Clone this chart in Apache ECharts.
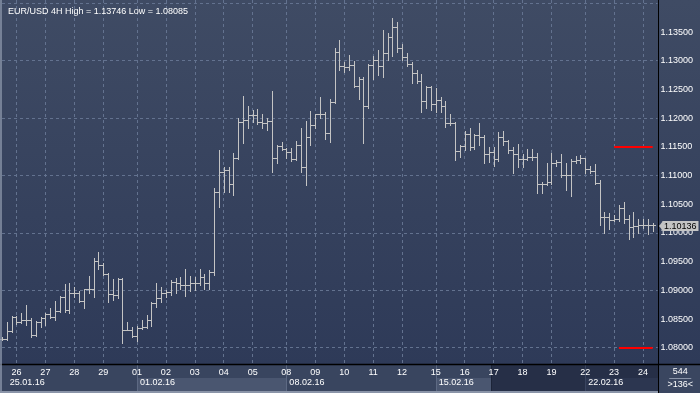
<!DOCTYPE html>
<html><head><meta charset="utf-8">
<script src="https://cdn.jsdelivr.net/npm/echarts@6/dist/echarts.min.js"></script>
<style>html,body{margin:0;padding:0;background:#3a4660;overflow:hidden}#c{width:700px;height:393px}</style>
</head><body><div id="c"></div>
<script>
// ---- data (EUR/USD 4H bars) ----
const opens = [1.0816,1.0816,1.0829,1.0853,1.0844,1.0849,1.0848,1.0822,1.0844,1.0851,1.0859,1.0853,1.0864,1.0889,1.0866,1.0895,1.0896,1.0882,1.0902,1.0903,
1.0951,1.0944,1.0928,1.0894,1.0892,1.0919,1.0831,1.0831,1.0820,1.0834,1.0836,1.0849,1.0878,1.0886,1.0895,1.0897,1.0915,1.0913,1.0909,1.0909,
1.0912,1.0913,1.0924,1.0912,1.0932,1.1071,1.1107,1.1110,1.1085,1.1131,1.1193,1.1197,1.1205,1.1205,1.1193,1.1191,1.1195,1.1130,1.1151,1.1146,
1.1141,1.1129,1.1153,1.1114,1.1167,1.1188,1.1207,1.1207,1.1174,1.1228,1.1315,1.1290,1.1289,1.1293,1.1256,1.1269,1.1221,1.1293,1.1301,1.1290,
1.1313,1.1342,1.1359,1.1323,1.1307,1.1295,1.1278,1.1265,1.1230,1.1254,1.1225,1.1232,1.1221,1.1192,1.1191,1.1143,1.1151,1.1172,1.1149,1.1171,
1.1167,1.1137,1.1141,1.1128,1.1167,1.1161,1.1144,1.1137,1.1128,1.1129,1.1133,1.1133,1.1085,1.1086,1.1089,1.1122,1.1124,1.1101,1.1101,1.1126,
1.1127,1.1130,1.1111,1.1108,1.1087,1.1027,1.1027,1.1022,1.1024,1.1043,1.1025,1.1010,1.1012,1.1014,1.1014,1.1014];
const highs = [1.0819,1.0845,1.0855,1.0855,1.0860,1.0874,1.0851,1.0847,1.0854,1.0861,1.0869,1.0881,1.0890,1.0911,1.0912,1.0906,1.0898,1.0903,1.0925,1.0956,
1.0967,1.0947,1.0930,1.0919,1.0921,1.0921,1.0845,1.0836,1.0838,1.0848,1.0857,1.0879,1.0913,1.0906,1.0901,1.0918,1.0921,1.0924,1.0938,1.0925,
1.0924,1.0937,1.0928,1.0935,1.1078,1.1144,1.1115,1.1114,1.1139,1.1200,1.1238,1.1221,1.1214,1.1216,1.1207,1.1201,1.1247,1.1153,1.1159,1.1148,
1.1148,1.1160,1.1182,1.1195,1.1212,1.1208,1.1237,1.1211,1.1234,1.1323,1.1336,1.1297,1.1310,1.1300,1.1272,1.1272,1.1294,1.1309,1.1319,1.1353,
1.1348,1.13746,1.1367,1.1330,1.1313,1.1297,1.1284,1.1277,1.1256,1.1256,1.1252,1.1236,1.1229,1.1207,1.1194,1.1153,1.1178,1.1182,1.1172,1.1192,
1.1171,1.1149,1.1149,1.1176,1.1178,1.1162,1.1149,1.1155,1.1137,1.1146,1.1146,1.1139,1.1089,1.1122,1.1139,1.1127,1.1137,1.1121,1.1128,1.1134,
1.1136,1.1131,1.1117,1.1120,1.1092,1.1037,1.1035,1.1031,1.1049,1.1053,1.1031,1.1037,1.1025,1.1024,1.1025,1.1018];
const lows = [1.0813,1.0813,1.0828,1.0841,1.0843,1.0840,1.0818,1.0820,1.0836,1.0840,1.0851,1.0849,1.0863,1.0863,1.0860,1.0889,1.0880,1.0869,1.0895,1.0889,
1.0938,1.0927,1.0880,1.0884,1.0886,1.08085,1.0830,1.0819,1.0812,1.0832,1.0834,1.0838,1.0871,1.0880,1.0889,1.0892,1.0895,1.0902,1.0890,1.0898,
1.0901,1.0909,1.0902,1.0902,1.0927,1.1046,1.1072,1.1072,1.1066,1.1129,1.1156,1.1182,1.1194,1.1189,1.1182,1.1179,1.1107,1.1121,1.1144,1.1131,
1.1126,1.1127,1.1107,1.1083,1.1153,1.1182,1.1200,1.1164,1.1159,1.1226,1.1284,1.1281,1.1284,1.1255,1.1234,1.1157,1.1217,1.1269,1.1276,1.1272,
1.1301,1.1309,1.1315,1.1302,1.1291,1.1262,1.1261,1.1211,1.1217,1.1215,1.1211,1.1211,1.1185,1.1188,1.1127,1.1133,1.1144,1.1144,1.1147,1.1153,
1.1121,1.1124,1.1117,1.1126,1.1153,1.1140,1.1104,1.1115,1.1115,1.1127,1.1127,1.1069,1.1069,1.1083,1.1086,1.1117,1.1098,1.1075,1.1064,1.1122,
1.1121,1.1104,1.1104,1.1086,1.1014,1.1000,1.1006,1.1020,1.1021,1.1018,1.0989,1.0993,1.1000,1.1008,1.0998,1.1004];
const closes = [1.0816,1.0829,1.0853,1.0844,1.0849,1.0848,1.0822,1.0844,1.0851,1.0859,1.0853,1.0864,1.0889,1.0866,1.0895,1.0896,1.0882,1.0902,1.0903,1.0951,
1.0944,1.0928,1.0894,1.0892,1.0919,1.0831,1.0831,1.0820,1.0834,1.0836,1.0849,1.0878,1.0886,1.0895,1.0897,1.0915,1.0913,1.0909,1.0909,1.0912,
1.0913,1.0924,1.0912,1.0932,1.1071,1.1107,1.1110,1.1085,1.1131,1.1193,1.1197,1.1205,1.1205,1.1193,1.1191,1.1195,1.1130,1.1151,1.1146,1.1141,
1.1129,1.1153,1.1114,1.1167,1.1188,1.1207,1.1207,1.1174,1.1228,1.1315,1.1290,1.1289,1.1293,1.1256,1.1269,1.1221,1.1293,1.1301,1.1290,1.1313,
1.1342,1.1359,1.1323,1.1307,1.1295,1.1278,1.1265,1.1230,1.1254,1.1225,1.1232,1.1221,1.1192,1.1191,1.1143,1.1151,1.1172,1.1149,1.1171,1.1167,
1.1137,1.1141,1.1128,1.1167,1.1161,1.1144,1.1137,1.1128,1.1129,1.1133,1.1133,1.1085,1.1086,1.1089,1.1122,1.1124,1.1101,1.1101,1.1126,1.1127,
1.1130,1.1111,1.1108,1.1087,1.1027,1.1027,1.1022,1.1024,1.1043,1.1025,1.1010,1.1012,1.1014,1.1014,1.1014,1.10136];

const dayStartIndex = [3,9,15,21,28,34,40,46,52,59,65,71,77,83,90,96,102,108,114,121,127,133];
const dayLabels = ['26','27','28','29','01','02','03','04','05','08','09','10','11','12','15','16','17','18','19','22','23','24'];
const weekStartIndex = [1,28,59,90,121];
const weekLabels = ['25.01.16','01.02.16','08.02.16','15.02.16','22.02.16'];
const priceTicks = [1.080,1.085,1.090,1.095,1.100,1.105,1.110,1.115,1.120,1.125,1.130,1.135];
const levelValues = [1.115, 1.080];
const levelStartIndex = [127, 128];
const lastPrice = 1.10136;
const titleText = 'EUR/USD 4H High = 1.13746 Low = 1.08085';
const totalBarsText = '544';
const visibleBarsText = '>136<';

// ---- layout / style ----
const FONT = '"Liberation Sans", Arial, sans-serif';
const FS = 9;
const GRID = '#63728f';
const BAR = '#c4c4c4';
const Y_MIN = 1.07725, Y_MAX = 1.14058;
const darkFrom = 102;

const n = opens.length;
const categories = opens.map((_, i) => String(i)).concat(['']);
const daySet = new Map(dayStartIndex.map((d, k) => [d, dayLabels[k]]));
const weekSet = new Map(weekStartIndex.map((d, k) => [d, weekLabels[k]]));
const barData = opens.map((o, i) => [i, o, highs[i], lows[i], closes[i]]);

const chart = echarts.init(document.getElementById('c'), null, {renderer: 'canvas'});

function renderItem(params, api) {
  const i = api.value(0);
  const o = api.coord([i, api.value(1)]);
  const h = api.coord([i, api.value(2)]);
  const l = api.coord([i, api.value(3)]);
  const c = api.coord([i, api.value(4)]);
  const x = Math.round(o[0]) + 0.5;
  const r = v => Math.round(v) + 0.5;
  const st = {stroke: BAR, lineWidth: 1};
  return {type: 'group', children: [
    {type: 'line', shape: {x1: x, y1: r(h[1]) - 0.5, x2: x, y2: r(l[1]) + 0.5}, style: st},
    {type: 'line', shape: {x1: x - 2.5, y1: r(o[1]), x2: x, y2: r(o[1])}, style: st},
    {type: 'line', shape: {x1: x, y1: r(c[1]), x2: x + 2.5, y2: r(c[1])}, style: st}
  ]};
}

const option = {
  animation: false,
  backgroundColor: {type: 'linear', x: 0, y: 0, x2: 0, y2: 1,
    colorStops: [{offset: 0, color: '#3f4b64'}, {offset: 0.93, color: '#2e3a58'}, {offset: 1, color: '#2e3a58'}]},
  title: {text: titleText, left: 3, top: 2,
    textStyle: {color: '#ffffff', fontSize: FS, fontWeight: 'normal', fontFamily: FONT}},
  grid: {left: 2, right: 42.5, top: 0, bottom: 29.5},
  xAxis: [{
    type: 'category', data: categories, boundaryGap: false,
    axisLine: {show: false}, axisTick: {show: false},
    splitLine: {show: true, interval: (i) => daySet.has(i), lineStyle: {color: GRID, type: [3, 3], width: 1}},
    axisLabel: {interval: (i) => daySet.has(i), formatter: (v, i) => daySet.get(i) || '',
      color: (v, i) => (i > darkFrom ? '#7f889b' : '#ffffff'),
      fontSize: FS, margin: 5, fontFamily: FONT}
  }, {
    type: 'category', data: categories, boundaryGap: false, position: 'bottom', offset: 9.5,
    axisLine: {show: false}, axisTick: {show: false}, splitLine: {show: false},
    axisLabel: {interval: (i) => weekSet.has(i), formatter: (v, i) => weekSet.get(i) || '',
      color: (v, i) => (i > darkFrom ? '#7f889b' : '#ffffff'),
      align: 'left', padding: [0, 0, 0, 3], fontSize: FS, margin: 5, fontFamily: FONT}
  }],
  yAxis: {
    type: 'value', position: 'right', min: Y_MIN, max: Y_MAX, splitNumber: 12, scale: true,
    axisLine: {show: false}, axisTick: {show: false}, splitLine: {show: false},
    axisLabel: {showMinLabel: false, showMaxLabel: false, color: '#ffffff', fontSize: FS, margin: 3, fontFamily: FONT,
      formatter: v => priceTicks.some(t => Math.abs(t - v) < 1e-7) ? v.toFixed(5) : ''}
  },
  series: [{
    type: 'line', data: [], z: 1, silent: true,
    markLine: {silent: true, symbol: 'none', z: 1, label: {show: false},
      lineStyle: {color: GRID, type: [3, 3], width: 1},
      data: priceTicks.map(v => ({yAxis: v}))}
  }, {
    type: 'custom', renderItem: renderItem, data: barData, z: 3,
    encode: {x: 0, y: [1, 2, 3, 4]},
    markLine: {silent: true, symbol: 'none', z: 4,
      data: levelValues.map((v, k) => [
          {coord: [categories[levelStartIndex[k]], v], lineStyle: {color: '#ff0000', width: 2, type: 'solid'}, label: {show: false}},
          {coord: [categories[n - 1], v]}
        ])}
  }]
};
chart.setOption(option);

// ---- axis strip decorations placed via the axis scales ----
const gx = i => chart.convertToPixel({xAxisIndex: 0}, i);
const yb = Math.round(chart.convertToPixel({yAxisIndex: 0}, Y_MIN));
const xr = Math.round(gx(n)) + 0.5;
const half = (gx(1) - gx(0)) / 2;
const H = 393, W = 700;
const rowY = yb + 14;
const els = [];
els.push({type: 'rect', z: -1, shape: {x: 0, y: yb, width: W, height: H - yb}, style: {fill: '#39455f'}});
const weekEnds = weekStartIndex.slice(1).concat([n]);
weekStartIndex.forEach((s, k) => {
  if (k % 2 === 1) {
    const x0 = Math.round(gx(s));
    const x1 = Math.min(Math.round(gx(weekEnds[k])), Math.round(gx(darkFrom) - half));
    if (x1 > x0) els.push({type: 'rect', z: -1, shape: {x: x0, y: rowY, width: x1 - x0, height: H - 2 - rowY}, style: {fill: '#4a5670'}});
  }
});
const xd = Math.round(gx(darkFrom) - half);
els.push({type: 'rect', z: -1, shape: {x: xd, y: yb, width: xr - xd, height: H - 2 - yb}, style: {fill: '#262f47'}});
els.push({type: 'rect', z: -1, shape: {x: Math.round(gx(weekStartIndex[4])), y: rowY, width: xr - Math.round(gx(weekStartIndex[4])), height: H - 2 - rowY}, style: {fill: '#2c3650'}});
els.push({type: 'line', z: -1, shape: {x1: xd + 0.5, y1: yb, x2: xd + 0.5, y2: H - 2}, style: {stroke: '#1c2438', lineWidth: 1}});
weekStartIndex.slice(1).forEach(s => {
  const x = Math.round(gx(s)) + 0.5;
  els.push({type: 'line', z: -1, shape: {x1: x, y1: yb, x2: x, y2: H - 2}, style: {stroke: s > darkFrom ? '#3a4560' : '#5d6983', lineWidth: 1}});
});
els.push({type: 'rect', z: -1, shape: {x: 0, y: H - 2, width: xr, height: 2}, style: {fill: '#8a94a8'}});
els.push({type: 'rect', z: -1, shape: {x: xr, y: yb, width: W - xr, height: H - yb}, style: {fill: '#3a4660'}});
els.push({type: 'line', z: 20, shape: {x1: 0, y1: yb + 0.5, x2: W, y2: yb + 0.5}, style: {stroke: '#000000', lineWidth: 1.5}});
els.push({type: 'line', z: 20, shape: {x1: xr, y1: 0, x2: xr, y2: H}, style: {stroke: '#000000', lineWidth: 1}});
els.push({type: 'line', z: 20, shape: {x1: 1, y1: 0, x2: 1, y2: H}, style: {stroke: '#8a94a8', lineWidth: 1.5}});
// last-price tag anchored to the price scale
const yp = Math.round(chart.convertToPixel({yAxisIndex: 0}, lastPrice)) + 1;
els.push({type: 'polygon', z: 40, shape: {points: [[xr + 0.5, yp], [xr + 4.5, yp - 5], [xr + 4.5, yp + 5]]}, style: {fill: '#c4c4c4'}});
els.push({type: 'rect', z: 40, shape: {x: xr + 4, y: yp - 5, width: 36, height: 10}, style: {fill: '#c4c4c4'}});
els.push({type: 'text', z: 41, x: xr + 5.5, y: yp + 0.5, style: {text: lastPrice.toFixed(5), fill: '#000000', font: FS + 'px ' + FONT, align: 'left', verticalAlign: 'middle'}});
const cx = (xr + W) / 2 + 1;
els.push({type: 'text', z: 20, x: cx, y: yb + 8, style: {text: totalBarsText, fill: '#ffffff', font: FS + 'px ' + FONT, align: 'center', verticalAlign: 'middle'}});
els.push({type: 'line', z: 20, shape: {x1: cx - 11, y1: yb + 14.5, x2: cx + 11, y2: yb + 14.5}, style: {stroke: '#8a94a8', lineWidth: 1}});
els.push({type: 'text', z: 20, x: cx, y: yb + 21, style: {text: visibleBarsText, fill: '#ffffff', font: FS + 'px ' + FONT, align: 'center', verticalAlign: 'middle'}});
chart.setOption({graphic: {elements: els}});
</script>
</body></html>
